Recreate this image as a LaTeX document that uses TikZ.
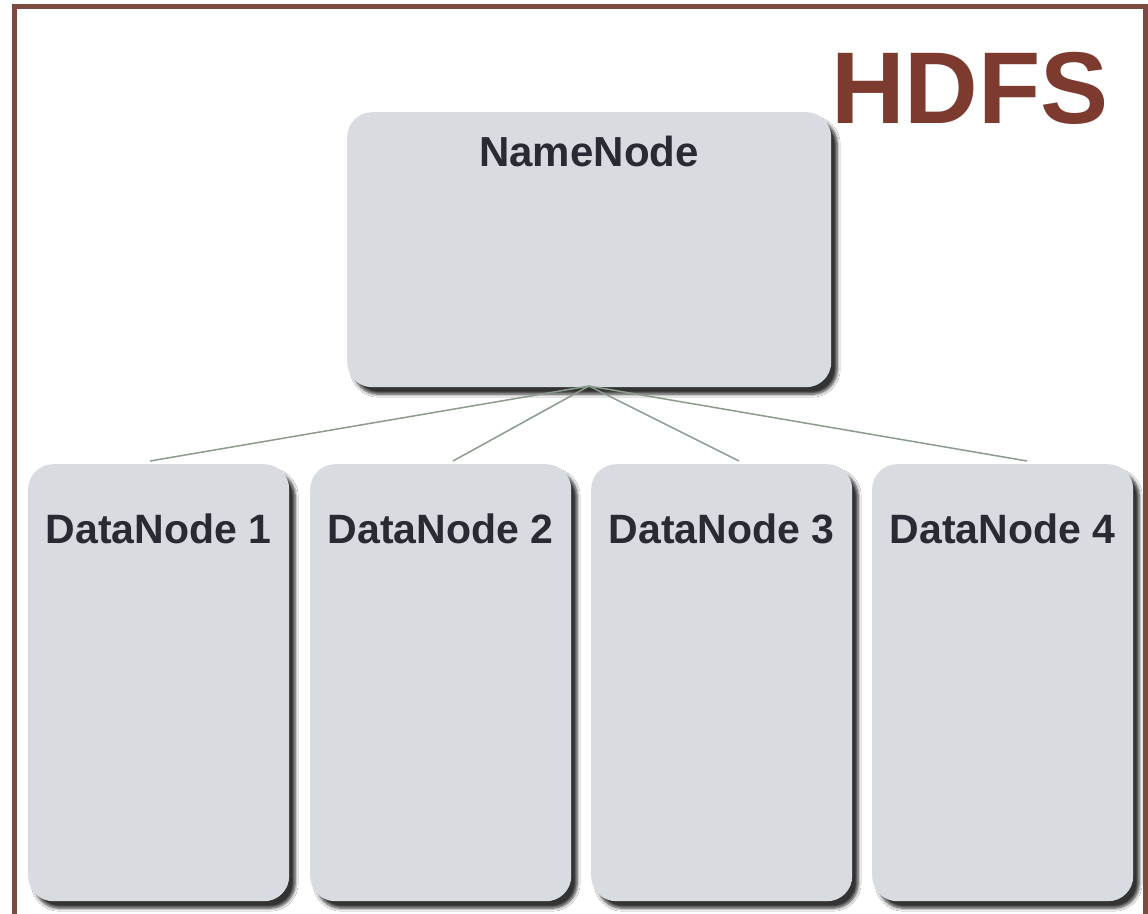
\documentclass[tikz,border=0pt]{standalone}
\usepackage{fontspec}
\setmainfont{Liberation Sans}
\usetikzlibrary{shadows.blur}
\definecolor{framebrown}{HTML}{7B4A40}
\definecolor{boxfill}{HTML}{D8DBE0}
\definecolor{labelink}{HTML}{2A2A35}
\definecolor{linkgreen}{HTML}{8A9C8C}
\definecolor{titlered}{HTML}{7D3A2F}
\tikzset{
  panel/.style={draw=none, fill=boxfill, rounded corners=25pt, inner sep=0pt,
    blur shadow={shadow xshift=6pt, shadow yshift=-7pt, shadow blur steps=6,
      shadow blur radius=3pt, shadow opacity=80}},
  namebox/.style={panel, minimum width=484pt, minimum height=275pt, anchor=north west},
  databox/.style={panel, minimum width=261pt, minimum height=437pt, anchor=north west},
  heading/.style={anchor=base, inner sep=0pt, text=labelink, font=\bfseries\fontsize{42}{50}\selectfont},
  dlabel/.style={heading, font=\bfseries\fontsize{41}{49}\selectfont},
  link/.style={draw=linkgreen, line width=1.5pt},
}
\begin{document}
\begin{tikzpicture}[x=1pt, y=-1pt]
  \useasboundingbox (0,0) rectangle (1148,913);
  \clip (0,0) rectangle (1148,913);
  \fill[white] (0,0) rectangle (1148,913);

  % outer frame, open at the bottom edge
  \draw[framebrown, line width=5pt] (14.5,940) -- (14.5,6.5) -- (1145,6.5) -- (1145,940);

  % title
  \node[anchor=base, inner sep=0pt, text=titlered, font=\bfseries\fontsize{102}{110}\selectfont]
    (title) at (970,123) {HDFS};

  % master node
  \node[namebox] (nn) at (347,112) {};
  \node[heading] (nnlabel) at (589,166) {NameNode};

  % worker nodes
  \node[databox] (dn1) at (28,464) {};
  \node[databox] (dn2) at (310,464) {};
  \node[databox] (dn3) at (591,464) {};
  \node[databox] (dn4) at (872,464) {};
  \node[dlabel] (dn1label) at (158.5,543) {DataNode 1};
  \node[dlabel] (dn2label) at (440.5,543) {DataNode 2};
  \node[dlabel] (dn3label) at (721.5,543) {DataNode 3};
  \node[dlabel] (dn4label) at (1002.5,543) {DataNode 4};

  % connector ends just above the worker boxes
  \coordinate (hub) at (589,386);
  \coordinate (e1) at (150,461);
  \coordinate (e2) at (453,461);
  \coordinate (e3) at (739,461);
  \coordinate (e4) at (1027,461);
  \draw[link] (hub) -- (e1);
  \draw[link] (hub) -- (e2);
  \draw[link] (hub) -- (e3);
  \draw[link] (hub) -- (e4);
\end{tikzpicture}
\end{document}
